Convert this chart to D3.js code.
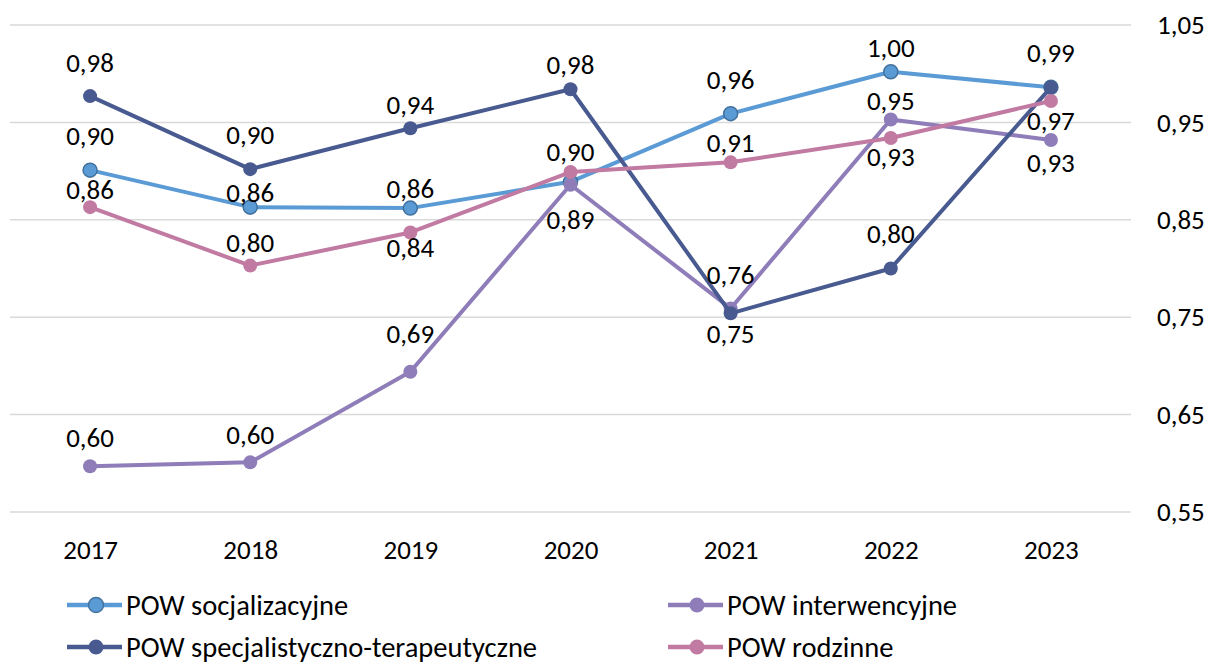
<!DOCTYPE html>
<html>
<head>
<meta charset="utf-8">
<script src="https://cdn.jsdelivr.net/npm/d3@7"></script>
<style>
  body { margin: 0; background: #fff; }
  svg { font-family: Carlito, Calibri, Lato, sans-serif; }
</style>
</head>
<body>
<svg id="chart" width="1210" height="664"></svg>
<script>
const years = ['2017', '2018', '2019', '2020', '2021', '2022', '2023'];
const yTicks = [0.55, 0.65, 0.75, 0.85, 0.95, 1.05];

const socjalizacyjne = [0.901, 0.863, 0.862, 0.889, 0.959, 1.002, 0.986];
const specjalistyczne = [0.977, 0.902, 0.944, 0.984, 0.754, 0.800, 0.986];
const interwencyjne = [0.597, 0.601, 0.694, 0.886, 0.759, 0.953, 0.932];
const rodzinne = [0.863, 0.803, 0.837, 0.899, 0.909, 0.934, 0.972];

// label offset from the point (px, negative = above), null = label hidden behind another
const socjalizacyjneLbl = [-35, -15, -20, null, -34, -24, null];
const specjalistyczneLbl = [-34, -35, -24, -25, 20, -35, -35];
const interwencyjneLbl = [-29, -28, -38, 35, -34, -19, 23];
const rodzinneLbl = [-18, -23, 15, -21, -20, 19, 20];

const series = [
  { name: 'POW socjalizacyjne', values: socjalizacyjne, lbl: socjalizacyjneLbl, color: '#5b9bd5', stroke: '#41719c' },
  { name: 'POW interwencyjne', values: interwencyjne, lbl: interwencyjneLbl, color: '#8e7db8', stroke: null },
  { name: 'POW specjalistyczno-terapeutyczne', values: specjalistyczne, lbl: specjalistyczneLbl, color: '#485a8f', stroke: null },
  { name: 'POW rodzinne', values: rodzinne, lbl: rodzinneLbl, color: '#c17aa2', stroke: null }
];

const pl = d3.formatLocale({ decimal: ',', thousands: ' ', grouping: [3], currency: ['', ' zł'] });
const fmt = pl.format('.2f');

const svg = d3.select('#chart');
const plotLeft = 10, plotRight = 1131, plotTop = 25, plotBottom = 512;
const numSize = 27;

const x = d3.scalePoint().domain(years).range([plotLeft, plotRight]).padding(0.5);
const y = d3.scaleLinear().domain([0.55, 1.05]).range([plotBottom, plotTop]);

// gridlines
svg.append('g')
  .selectAll('line')
  .data(yTicks)
  .enter().append('line')
  .attr('x1', plotLeft)
  .attr('x2', plotRight)
  .attr('y1', d => y(d))
  .attr('y2', d => y(d))
  .attr('stroke', '#d9d9d9')
  .attr('stroke-width', 1.5);

// right axis
const yAxis = svg.append('g')
  .attr('transform', `translate(${plotRight},0)`)
  .call(d3.axisRight(y).tickValues(yTicks).tickFormat(fmt).tickSize(0).tickPadding(26));
yAxis.select('.domain').remove();
yAxis.selectAll('text').attr('font-size', numSize).attr('fill', '#000');
yAxis.attr('font-family', null);

// bottom axis
const xAxis = svg.append('g')
  .attr('transform', `translate(0,${plotBottom})`)
  .call(d3.axisBottom(x).tickSize(0));
xAxis.select('.domain').remove();
xAxis.selectAll('text').attr('font-size', numSize).attr('fill', '#000').attr('y', 38).attr('dy', '0.35em');
xAxis.attr('font-family', null);

const line = d3.line().x((d, i) => x(years[i])).y(d => y(d));

for (const s of series) {
  const g = svg.append('g');
  g.append('path')
    .attr('d', line(s.values))
    .attr('fill', 'none')
    .attr('stroke', s.color)
    .attr('stroke-width', 4)
    .attr('stroke-linejoin', 'round');

  g.selectAll('circle')
    .data(s.values)
    .enter().append('circle')
    .attr('cx', (d, i) => x(years[i]))
    .attr('cy', d => y(d))
    .attr('r', 7)
    .attr('fill', s.color)
    .attr('stroke', s.stroke || 'none')
    .attr('stroke-width', 1.5);
}

// data labels on top
for (const s of series) {
  svg.append('g')
    .selectAll('text')
    .data(s.values.map((v, i) => ({ v, i, off: s.lbl[i] })).filter(d => d.off !== null))
    .enter().append('text')
    .attr('x', d => x(years[d.i]))
    .attr('y', d => y(d.v) + d.off)
    .attr('dy', '0.35em')
    .attr('text-anchor', 'middle')
    .attr('font-size', numSize)
    .attr('fill', '#000')
    .text(d => fmt(d.v));
}

// legend
const legend = svg.append('g')
  .selectAll('g')
  .data(series)
  .enter().append('g')
  .attr('transform', (d, i) => `translate(${67 + (i % 2) * 601},${605 + Math.floor(i / 2) * 42})`);

legend.append('line')
  .attr('x1', 0).attr('x2', 55)
  .attr('stroke', d => d.color)
  .attr('stroke-width', 4.5);

legend.append('circle')
  .attr('cx', 29)
  .attr('r', 7.5)
  .attr('fill', d => d.color)
  .attr('stroke', d => d.stroke || 'none')
  .attr('stroke-width', 1.5);

legend.append('text')
  .attr('x', 59)
  .attr('dy', '0.35em')
  .attr('font-size', 28.5)
  .attr('fill', '#000')
  .text(d => d.name);
</script>
</body>
</html>
